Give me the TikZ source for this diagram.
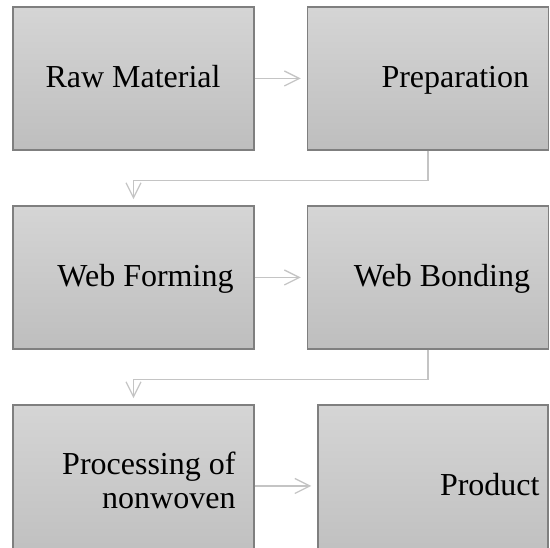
\documentclass[tikz,border=0pt]{standalone}
\usepackage{fontspec}
\setmainfont{Liberation Serif}
\usetikzlibrary{positioning,arrows.meta}

\definecolor{boxtop}{HTML}{D5D5D5}
\definecolor{boxbot}{HTML}{BEBEBE}
\definecolor{boxline}{HTML}{7F7F7F}
\definecolor{linkgray}{HTML}{C4C4C4}

\begin{document}
\begin{tikzpicture}[x=1pt, y=1pt, on grid, node distance=199pt and 294.5pt,
  box/.style={draw=boxline, line width=1.5pt, top color=boxtop, bottom color=boxbot,
              minimum width=241pt, minimum height=143pt, inner sep=0pt},
  tall box/.style={box, minimum height=162pt},
  step text/.style={font=\fontsize{32}{34}\selectfont, inner sep=0pt, align=right},
  link/.style={draw=linkgray, line width=1.3pt, -{Straight Barb[length=15pt,width=15pt]}, shorten >=6pt}]
\useasboundingbox (0,0) rectangle (550,548);

\node[box]                                         (raw)  at (133.5,469.5) {};
\node[box, right=of raw]                           (prep) {};
\node[box, below=of raw]                           (form) {};
\node[box, right=of form]                          (bond) {};
\node[tall box, below=208.5pt of form]             (proc) {};
\node[tall box, minimum width=230pt, right=299.5pt of proc] (prod) {};

\node[step text, anchor=base east] (raw text)  at ([xshift=-34pt, yshift=-9.5pt]raw.east)  {Raw Material};
\node[step text, anchor=base east] (prep text) at ([xshift=-20pt, yshift=-9.5pt]prep.east) {Preparation};
\node[step text, anchor=base east] (form text) at ([xshift=-21pt, yshift=-9.5pt]form.east) {Web Forming};
\node[step text, anchor=base east] (bond text) at ([xshift=-19pt, yshift=-9.5pt]bond.east) {Web Bonding};
\node[step text, anchor=base east] (proc text) at ([xshift=-19pt, yshift=-23pt]proc.east)  {Processing of\\nonwoven};
\node[step text, anchor=base east] (prod text) at ([xshift=-9pt, yshift=-9.5pt]prod.east)  {Product};

\draw[link] (raw) -- (prep);
\draw[link] (prep.south) -- ++(0,-30) -| (form.north);
\draw[link] (form) -- (bond);
\draw[link] (bond.south) -- ++(0,-30) -| (proc.north);
\draw[link] (proc) -- (prod);
\end{tikzpicture}
\end{document}
